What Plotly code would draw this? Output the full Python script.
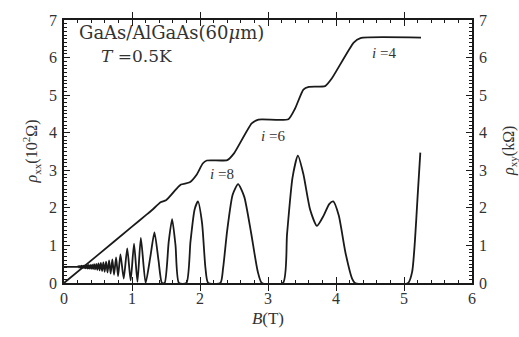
import plotly.graph_objects as go

# Longitudinal resistivity rho_xx (10^2 Ohm) versus magnetic field B (T)
b_xx = [0.00, 0.10, 0.200, 0.212, 0.224, 0.236, 0.248, 0.260, 0.272, 0.284, 0.296,
        0.308, 0.320, 0.333, 0.346, 0.359, 0.372, 0.386, 0.400, 0.414, 0.428, 0.443,
        0.458, 0.474, 0.490, 0.507, 0.524, 0.542, 0.560, 0.579, 0.598, 0.619, 0.640,
        0.663, 0.686, 0.711, 0.736, 0.766, 0.795, 0.830, 0.878, 0.93, 0.98, 1.03,
        1.08, 1.13, 1.20, 1.27, 1.33, 1.39, 1.44, 1.48, 1.54, 1.59, 1.64, 1.69,
        1.80, 1.86, 1.92, 1.97, 2.03, 2.08, 2.12, 2.30, 2.34, 2.40, 2.48, 2.56,
        2.65, 2.75, 2.85, 2.91, 3.22, 3.28, 3.36, 3.44, 3.52, 3.62, 3.72, 3.82,
        3.90, 3.96, 4.04, 4.14, 4.24, 4.28, 5.06, 5.12, 5.16, 5.20, 5.24]
rho_xx = [0.43, 0.43, 0.43, 0.45, 0.41, 0.455, 0.405, 0.46, 0.40, 0.465, 0.395,
          0.47, 0.39, 0.475, 0.385, 0.48, 0.38, 0.485, 0.375, 0.49, 0.37, 0.50,
          0.36, 0.51, 0.35, 0.52, 0.34, 0.535, 0.32, 0.55, 0.30, 0.57, 0.28,
          0.60, 0.25, 0.63, 0.22, 0.68, 0.18, 0.76, 0.12, 0.92, 0.07, 1.05,
          0.03, 1.20, 0.00, 0.70, 1.35, 0.60, 0.00, 0.00, 1.10, 1.70, 1.00, 0.00,
          0.00, 1.10, 1.95, 2.17, 1.60, 0.40, 0.00, 0.00, 0.40, 1.40, 2.35, 2.63,
          2.30, 1.35, 0.30, 0.00, 0.00, 1.30, 2.80, 3.39, 2.90, 1.95, 1.52, 1.80,
          2.10, 2.17, 1.80, 0.80, 0.10, 0.00, 0.00, 0.30, 1.10, 2.30, 3.47]

# Hall resistivity rho_xy (kOhm) versus magnetic field B (T)
b_xy = [0.00, 0.50, 1.00, 1.20, 1.30, 1.42, 1.50, 1.65, 1.72, 1.85, 1.95, 2.04,
        2.10, 2.40, 2.50, 2.76, 2.86, 3.30, 3.40, 3.52, 3.60, 3.84, 3.94, 4.26,
        4.36, 5.25]
rho_xy = [0.00, 0.75, 1.50, 1.80, 1.95, 2.15, 2.20, 2.50, 2.62, 2.68, 2.88, 3.18,
          3.26, 3.27, 3.45, 4.25, 4.35, 4.36, 4.65, 5.15, 5.22, 5.24, 5.45, 6.40,
          6.52, 6.53]

B_RANGE = [0, 6]
RHO_RANGE = [0, 7]

serif = "Liberation Serif"
wide_serif = "DejaVu Serif"
ink = "#1a1a1a"
text_ink = "#333"

fig = go.Figure()
fig.add_trace(go.Scatter(x=b_xx, y=rho_xx, mode="lines",
                         line=dict(color=ink, width=1.8, shape="spline", smoothing=0.6),
                         xaxis="x", yaxis="y", showlegend=False))
fig.add_trace(go.Scatter(x=b_xy, y=rho_xy, mode="lines",
                         line=dict(color=ink, width=1.8, shape="spline", smoothing=0.5),
                         xaxis="x", yaxis="y2", showlegend=False))
# Empty trace that carries the fine-tick axes
fig.add_trace(go.Scatter(x=[None], y=[None], mode="lines", xaxis="x2", yaxis="y3",
                         showlegend=False, hoverinfo="skip"))

axis_common = dict(showline=True, linecolor=ink, linewidth=1.5, ticks="inside",
                   tickcolor=ink, ticklen=6, tickwidth=1.2, showgrid=False,
                   zeroline=False, tick0=0, dtick=1,
                   tickfont=dict(family=serif, size=16, color=text_ink))

fine_common = dict(showline=False, ticks="inside", tickcolor=ink, ticklen=3,
                   tickwidth=1, showgrid=False, zeroline=False, showticklabels=False,
                   tick0=0, mirror="allticks")

fig.update_layout(
    width=519, height=337,
    margin=dict(l=64, r=47, t=14, b=54),
    paper_bgcolor="white", plot_bgcolor="white",
    xaxis=dict(range=B_RANGE, mirror="allticks",
               title=dict(text="<i>B</i>(T)", font=dict(family=serif, size=17, color=text_ink),
                          standoff=6),
               **axis_common),
    yaxis=dict(range=RHO_RANGE, mirror=True, ticklabelstandoff=2, **axis_common),
    yaxis2=dict(range=RHO_RANGE, overlaying="y", side="right", ticklabelstandoff=2,
                **axis_common),
    xaxis2=dict(range=B_RANGE, overlaying="x", side="bottom", anchor="y3", dtick=0.2,
                **fine_common),
    yaxis3=dict(range=RHO_RANGE, overlaying="y", side="left", anchor="x2", dtick=0.1,
                **fine_common),
)

notes = [
    dict(x=0.19, y=6.66, text="GaAs/AlGaAs(60<i>μ</i>m)", xanchor="left", size=18, font=wide_serif),
    dict(x=0.52, y=6.04, text="<i>T</i> =0.5K", xanchor="left", size=17, font=wide_serif),
    dict(x=4.70, y=6.12, text="<i>i</i> =4", xanchor="center", size=15, font=serif),
    dict(x=3.08, y=3.92, text="<i>i</i> =6", xanchor="center", size=15, font=serif),
    dict(x=2.33, y=2.90, text="<i>i</i> =8", xanchor="center", size=15, font=serif),
]
for n in notes:
    fig.add_annotation(x=n["x"], y=n["y"], xref="x", yref="y", text=n["text"],
                       showarrow=False, xanchor=n["xanchor"], yanchor="middle",
                       font=dict(family=n["font"], size=n["size"], color=text_ink))

fig.add_annotation(xref="paper", yref="paper", x=(18 - 64) / 408, y=0.5,
                   text="<i>ρ</i><sub>xx</sub>(10<sup>2</sup>Ω)", textangle=-90,
                   showarrow=False, font=dict(family=serif, size=16, color=text_ink))
fig.add_annotation(xref="paper", yref="paper", x=(521 - 64) / 408, y=0.5,
                   text="<i>ρ</i><sub>xy</sub>(kΩ)", textangle=-90,
                   showarrow=False, font=dict(family=serif, size=16, color=text_ink))

fig.write_html("out.html")
